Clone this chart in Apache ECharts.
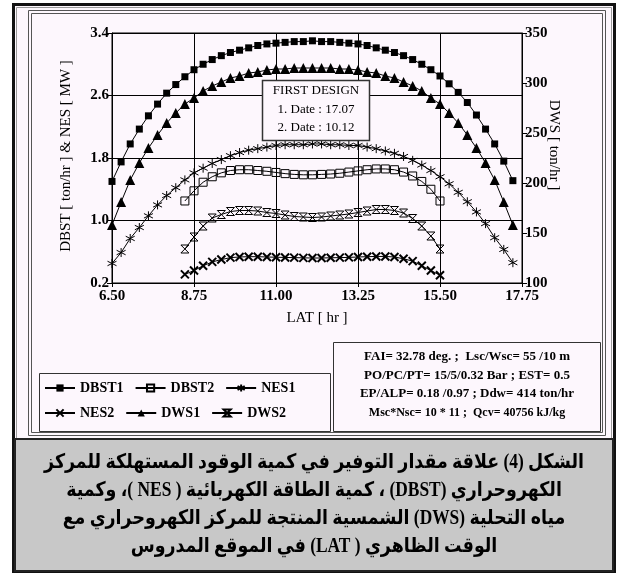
<!DOCTYPE html>
<html>
<head>
<meta charset="utf-8">
<script src="https://cdn.jsdelivr.net/npm/echarts@6/dist/echarts.min.js"></script>
<style>
  html, body { margin: 0; padding: 0; background: #ffffff; }
  #chart { width: 628px; height: 575px; }
</style>
</head>
<body>
<div id="chart"></div>
<script>
// Local apparent time (hours) for the full-day and the reduced-day runs
const latFull = [6.50, 6.75, 7.00, 7.25, 7.50, 7.75, 8.00, 8.25, 8.50, 8.75, 9.00, 9.25,
  9.50, 9.75, 10.00, 10.25, 10.50, 10.75, 11.00, 11.25, 11.50, 11.75, 12.00, 12.25,
  12.50, 12.75, 13.00, 13.25, 13.50, 13.75, 14.00, 14.25, 14.50, 14.75, 15.00, 15.25,
  15.50, 15.75, 16.00, 16.25, 16.50, 16.75, 17.00, 17.25, 17.50];
const latShort = [8.50, 8.75, 9.00, 9.25, 9.50, 9.75, 10.00, 10.25, 10.50, 10.75, 11.00,
  11.25, 11.50, 11.75, 12.00, 12.25, 12.50, 12.75, 13.00, 13.25, 13.50, 13.75, 14.00,
  14.25, 14.50, 14.75, 15.00, 15.25, 15.50];

// Fuel saving DBST [ton/hr]
const dbst1 = [1.50, 1.75, 1.98, 2.17, 2.34, 2.49, 2.63, 2.74, 2.84, 2.93, 3.00, 3.06,
  3.11, 3.15, 3.18, 3.21, 3.24, 3.26, 3.27, 3.28, 3.29, 3.29, 3.30, 3.29,
  3.29, 3.28, 3.27, 3.26, 3.24, 3.21, 3.18, 3.15, 3.11, 3.06, 3.00, 2.93,
  2.85, 2.75, 2.64, 2.51, 2.35, 2.17, 1.98, 1.76, 1.51];
const dbst2 = [1.25, 1.38, 1.49, 1.56, 1.61, 1.64, 1.65, 1.65, 1.64, 1.63, 1.615,
  1.60, 1.59, 1.585, 1.585, 1.59, 1.595, 1.605, 1.62, 1.635, 1.65, 1.66, 1.66,
  1.65, 1.62, 1.57, 1.50, 1.40, 1.25];

// Electric energy NES [MW]
const nes1 = [0.45, 0.59, 0.77, 0.91, 1.06, 1.20, 1.32, 1.42, 1.52, 1.61, 1.67, 1.73,
  1.78, 1.83, 1.87, 1.90, 1.92, 1.94, 1.96, 1.97, 1.97, 1.97, 1.98, 1.98,
  1.97, 1.97, 1.96, 1.96, 1.94, 1.92, 1.89, 1.86, 1.82, 1.77, 1.71, 1.64,
  1.56, 1.47, 1.36, 1.24, 1.11, 0.96, 0.78, 0.63, 0.46];
const nes2 = [0.31, 0.36, 0.42, 0.47, 0.50, 0.525, 0.533, 0.537, 0.537, 0.533, 0.53,
  0.527, 0.525, 0.522, 0.52, 0.52, 0.523, 0.525, 0.528, 0.533, 0.537, 0.54, 0.54,
  0.533, 0.51, 0.48, 0.42, 0.36, 0.30];

// Desalinated water DWS [ton/hr]
const dws1 = [158, 181, 203, 220, 235, 248, 260, 270, 279, 285, 292, 297,
  301, 305, 307, 310, 311, 313, 314, 314, 315, 315, 315, 315,
  315, 314, 314, 313, 311, 310, 307, 305, 301, 297, 292, 285,
  279, 270, 260, 248, 235, 220, 203, 181, 158];
const dws2 = [134, 146, 157, 165, 168.5, 171.5, 172.5, 172.5, 172, 170.5, 169.5,
  168, 166.5, 166, 165.5, 166, 167, 168, 169, 170.5, 172, 173.5, 173.5,
  172.5, 170, 164.5, 157, 147, 134];

// Axis ticks
const latTicks = [6.50, 8.75, 11.00, 13.25, 15.50, 17.75];
const leftTicks = [0.2, 1.0, 1.8, 2.6, 3.4];
const rightTicks = [100, 150, 200, 250, 300, 350];

const seriesNames = ['DBST1', 'DBST2', 'NES1', 'NES2', 'DWS1', 'DWS2'];

const designNote = ['FIRST DESIGN', '1. Date : 17.07', '2. Date : 10.12'];
const paramLines = [
  'FAI= 32.78 deg. ;  Lsc/Wsc= 55 /10 m',
  'PO/PC/PT= 15/5/0.32 Bar ; EST= 0.5',
  'EP/ALP= 0.18 /0.97 ; Ddw= 414 ton/hr',
  'Msc*Nsc= 10 * 11 ;  Qcv= 40756 kJ/kg'
];
const captionLines = [
  'الشكل (4) علاقة مقدار التوفير في كمية الوقود المستهلكة للمركز',
  'الكهروحراري (DBST) ، كمية الطاقة الكهربائية ( NES )، وكمية',
  'مياه التحلية (DWS) الشمسية المنتجة للمركز الكهروحراري مع',
  'الوقت الظاهري ( LAT) في الموقع المدروس'
];

const SERIF = '"Liberation Serif", "Times New Roman", serif';
const PANEL = '#FDF7FD';

const pair = (xs, ys) => xs.map((x, i) => [x, ys[i]]);

const SYM_STAR = 'path://M5,0L5,10M0.67,2.5L9.33,7.5M0.67,7.5L9.33,2.5';
const SYM_CROSS = 'path://M0,0L10,10M0,10L10,0';
const SYM_HOURGLASS = 'path://M0,0L10,0L0,10L10,10Z';

function lineSeries(name, xs, ys, axis, symbol, size, itemStyle) {
  return {
    name, type: 'line', yAxisIndex: axis,
    data: pair(xs, ys),
    symbol, symbolSize: size, showAllSymbol: true,
    lineStyle: { color: '#000', width: 1 },
    itemStyle,
    emphasis: { disabled: true },
    animation: false,
    z: 3
  };
}

const strokeOnly = (w) => ({ color: 'rgba(0,0,0,0)', borderColor: '#000', borderWidth: w });

const chart = echarts.init(document.getElementById('chart'), null, { renderer: 'canvas' });

const graphics = [
  // figure frame
  { type: 'rect', z: -10, shape: { x: 13.5, y: 4.5, width: 601, height: 567 },
    style: { fill: PANEL, stroke: '#111', lineWidth: 3 } },
  { type: 'rect', z: -9, shape: { x: 16.5, y: 7.5, width: 595, height: 561 },
    style: { fill: 'none', stroke: '#9a9a9a', lineWidth: 1 } },
  { type: 'rect', z: -9, shape: { x: 28.5, y: 10.5, width: 577, height: 425 },
    style: { fill: 'none', stroke: '#555', lineWidth: 1 } },
  { type: 'rect', z: -9, shape: { x: 31.5, y: 13.5, width: 571, height: 419 },
    style: { fill: 'none', stroke: '#555', lineWidth: 1 } },
  // caption block
  { type: 'rect', z: -8, shape: { x: 15, y: 439, width: 598, height: 132 },
    style: { fill: '#C8C8C8', stroke: '#222', lineWidth: 2 } },
  // legend box
  { type: 'rect', z: -8, shape: { x: 39.5, y: 373.5, width: 291, height: 58 },
    style: { fill: 'none', stroke: '#333', lineWidth: 1 } },
  // parameter box
  { type: 'rect', z: -8, shape: { x: 333.5, y: 342.5, width: 267, height: 89 },
    style: { fill: 'none', stroke: '#333', lineWidth: 1 } },
  // design note box
  { type: 'rect', z: 20, shape: { x: 262.5, y: 80.5, width: 107, height: 60 },
    style: { fill: PANEL, stroke: '#333', lineWidth: 1.5 } },
  // axis titles
  { type: 'text', z: 20, x: 66, y: 156, rotation: Math.PI / 2,
    style: { text: 'DBST [ ton/hr ] & NES [ MW ]', font: '15px ' + SERIF, fill: '#000',
      textAlign: 'center', textVerticalAlign: 'middle' } },
  { type: 'text', z: 20, x: 554, y: 145, rotation: -Math.PI / 2,
    style: { text: 'DWS [ ton/hr ]', font: '15px ' + SERIF, fill: '#000',
      textAlign: 'center', textVerticalAlign: 'middle' } }
];

designNote.forEach((t, i) => {
  graphics.push({ type: 'text', z: 21, x: 316, y: 91 + i * 18.5,
    style: { text: t, font: '13px ' + SERIF, fill: '#000', textAlign: 'center', textVerticalAlign: 'middle' } });
});
paramLines.forEach((t, i) => {
  graphics.push({ type: 'text', z: 21, x: 467, y: 357 + i * 18.5,
    style: { text: t, font: 'bold ' + (i === 3 ? 12 : 13) + 'px ' + SERIF, fill: '#000',
      textAlign: 'center', textVerticalAlign: 'middle' } });
});
captionLines.forEach((t, i) => {
  graphics.push({ type: 'text', z: 21, x: 314, y: 463 + i * 28, scaleX: 0.87,
    style: { text: '\u202B' + t + '\u202C', font: 'bold 20px ' + SERIF + ', "DejaVu Sans"', fill: '#000',
      textAlign: 'center', textVerticalAlign: 'middle' } });
});

chart.setOption({
  backgroundColor: '#ffffff',
  animation: false,
  grid: { left: 112, right: 106, top: 33, bottom: 292, show: true,
    borderColor: '#000', borderWidth: 1, backgroundColor: 'transparent' },
  legend: {
    data: seriesNames, left: 44, top: 381, width: 285, itemGap: 11,
    itemWidth: 30, itemHeight: 9, padding: 0,
    textStyle: { fontFamily: SERIF, fontWeight: 'bold', fontSize: 14, color: '#000' },
    selectedMode: false
  },
  xAxis: {
    type: 'value', min: latTicks[0], max: latTicks[latTicks.length - 1],
    interval: latTicks[1] - latTicks[0],
    name: 'LAT [ hr ]', nameLocation: 'middle', nameGap: 28,
    nameTextStyle: { fontFamily: SERIF, fontSize: 15, color: '#000' },
    axisLine: { lineStyle: { color: '#000', width: 1 } },
    axisTick: { show: true, length: 4, lineStyle: { color: '#000' } },
    axisLabel: { margin: 6, fontFamily: SERIF, fontWeight: 'bold', fontSize: 15, color: '#000',
      formatter: v => v.toFixed(2) },
    splitLine: { show: true, lineStyle: { color: '#000', width: 1 } }
  },
  yAxis: [
    {
      type: 'value', min: leftTicks[0], max: leftTicks[leftTicks.length - 1],
      interval: leftTicks[1] - leftTicks[0],
      axisLine: { show: true, lineStyle: { color: '#000', width: 1 } },
      axisTick: { show: true, length: 5, lineStyle: { color: '#000' } },
      axisLabel: { margin: 3, fontFamily: SERIF, fontWeight: 'bold', fontSize: 15, color: '#000',
        formatter: v => v.toFixed(1) },
      splitLine: { show: true, lineStyle: { color: '#000', width: 1 } }
    },
    {
      type: 'value', position: 'right', min: rightTicks[0], max: rightTicks[rightTicks.length - 1],
      interval: rightTicks[1] - rightTicks[0],
      axisLine: { show: true, lineStyle: { color: '#000', width: 1 } },
      axisTick: { show: true, length: 5, lineStyle: { color: '#000' } },
      axisLabel: { margin: 3, fontFamily: SERIF, fontWeight: 'bold', fontSize: 15, color: '#000' },
      splitLine: { show: false }
    }
  ],
  series: [
    lineSeries('DBST1', latFull, dbst1, 0, 'rect', 7, { color: '#000' }),
    lineSeries('DBST2', latShort, dbst2, 0, 'rect', 8, strokeOnly(1)),
    lineSeries('NES1', latFull, nes1, 0, SYM_STAR, 9, strokeOnly(1)),
    lineSeries('NES2', latShort, nes2, 0, SYM_CROSS, 8, strokeOnly(2)),
    lineSeries('DWS1', latFull, dws1, 1, 'triangle', 10, { color: '#000' }),
    lineSeries('DWS2', latShort, dws2, 1, SYM_HOURGLASS, 8, strokeOnly(1))
  ],
  graphic: graphics
});
</script>
</body>
</html>
